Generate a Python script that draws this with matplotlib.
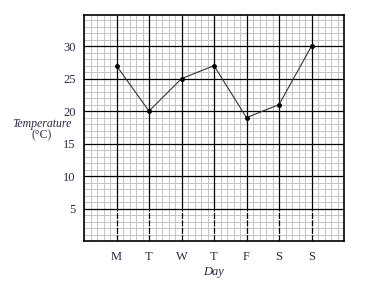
import matplotlib.pyplot as plt
from matplotlib.ticker import MultipleLocator

days = ["M", "T", "W", "T", "F", "S", "S"]
temps = [27, 20, 25, 27, 19, 21, 30]
y_ticks = [5, 10, 15, 20, 25, 30]

text_color = "#2a2a4a"
plt.rcParams["font.family"] = ["Liberation Serif", "DejaVu Serif"]

fig = plt.figure(figsize=(3.74, 2.86), dpi=100)
ax = fig.add_axes([0.2246, 0.1573, 0.6952, 0.7903])

x = list(range(1, len(days) + 1))
ax.set_xlim(0, 8)
ax.set_ylim(0, 34.8)

ax.xaxis.set_minor_locator(MultipleLocator(0.2))
ax.yaxis.set_minor_locator(MultipleLocator(1))
ax.set_xticks(x)
ax.set_xticklabels(days)
ax.set_yticks(y_ticks)

ax.grid(which="minor", color="#c4c4c4", linewidth=0.7)
ax.grid(which="major", axis="y", color="black", linewidth=0.9)
# major vertical lines: solid above 5, dashed below
ax.vlines(x, 5, 34.8, colors="black", linewidth=0.9)
ax.vlines(x, 0, 5, colors="black", linewidth=0.9, linestyles=(0, (5, 1)))
ax.set_axisbelow(True)

for s in ax.spines.values():
    s.set_color("black")
    s.set_linewidth(1.2)

ax.tick_params(which="both", length=0)
ax.tick_params(axis="y", pad=6, labelsize=9, labelcolor=text_color)
ax.tick_params(axis="x", pad=7, labelsize=9, labelcolor=text_color)

ax.plot(x, temps, color="#333333", linewidth=0.8, marker="o", markersize=2.5,
        markerfacecolor="black", markeredgecolor="black", zorder=5)

fig.text(0.112, 0.566, "Temperature", ha="center", va="center", fontsize=8.5,
         style="italic", color=text_color)
fig.text(0.112, 0.528, "(°C)", ha="center", va="center", fontsize=8.5,
         color=text_color)
fig.text(0.572, 0.048, "Day", ha="center", va="center", fontsize=9,
         style="italic", color=text_color)

fig.savefig("out.png", dpi=100)
